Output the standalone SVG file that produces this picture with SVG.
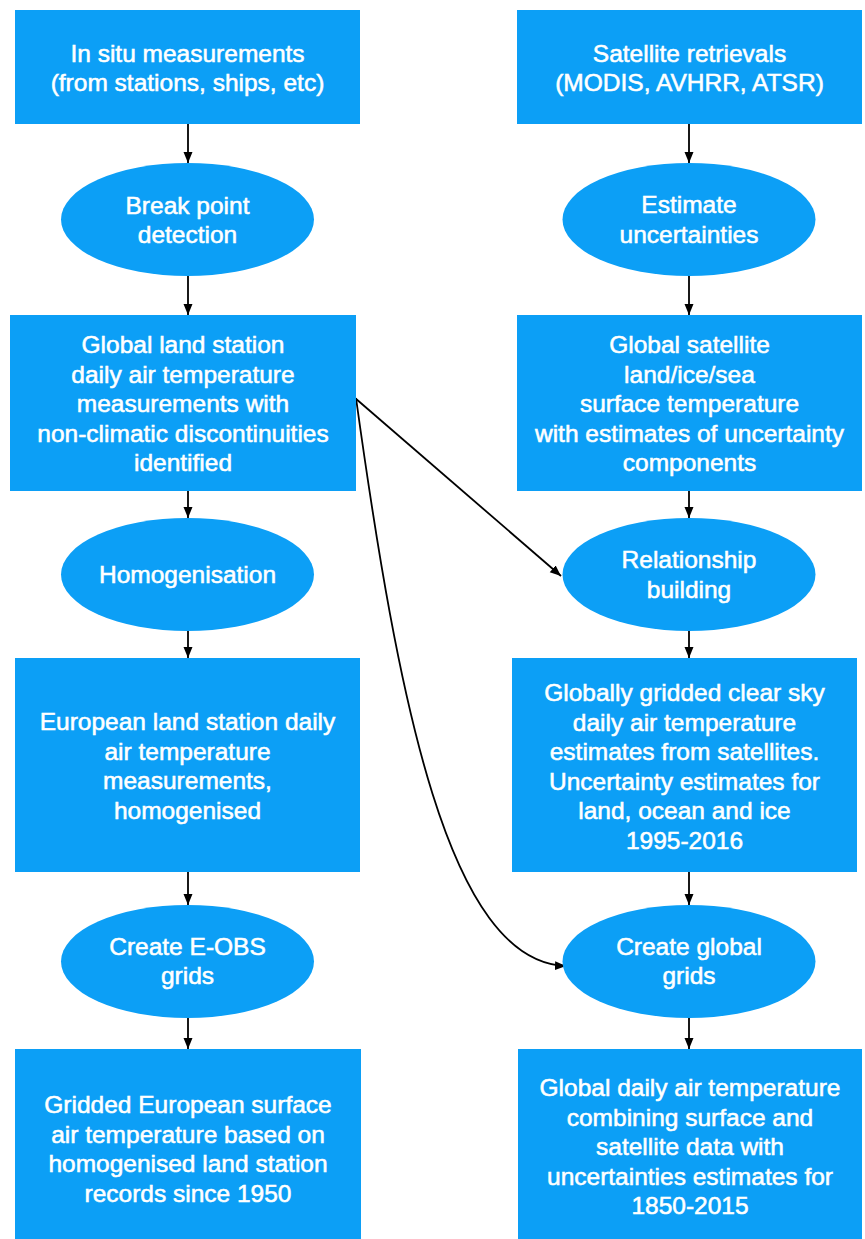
<svg xmlns="http://www.w3.org/2000/svg" width="865" height="1239" viewBox="0 0 865 1239">
<style>
.n{fill:#0C9FF6}
.t{fill:#fff;stroke:#fff;stroke-width:0.55;font-family:"Liberation Sans",Arial,Helvetica,sans-serif;font-size:24.5px;text-anchor:middle}
.c{stroke:#000;stroke-width:1.8;fill:none}
</style>
<defs>
<marker id="ah" markerUnits="userSpaceOnUse" markerWidth="12" markerHeight="10" refX="11" refY="4.5" orient="auto">
<path d="M0,0 L11,4.5 L0,9 z" fill="#000"/>
</marker>
</defs>
<rect width="865" height="1239" fill="#fff"/>
<g id="connectors">
<line class="c" x1="188" y1="124" x2="188" y2="163" marker-end="url(#ah)"/>
<line class="c" x1="188" y1="276" x2="188" y2="315" marker-end="url(#ah)"/>
<line class="c" x1="188" y1="491" x2="188" y2="518" marker-end="url(#ah)"/>
<line class="c" x1="188" y1="631" x2="188" y2="658" marker-end="url(#ah)"/>
<line class="c" x1="188" y1="872" x2="188" y2="905" marker-end="url(#ah)"/>
<line class="c" x1="188" y1="1018" x2="188" y2="1049" marker-end="url(#ah)"/>
<line class="c" x1="689" y1="124" x2="689" y2="163" marker-end="url(#ah)"/>
<line class="c" x1="689" y1="276" x2="689" y2="315" marker-end="url(#ah)"/>
<line class="c" x1="689" y1="491" x2="689" y2="518" marker-end="url(#ah)"/>
<line class="c" x1="689" y1="631" x2="689" y2="658" marker-end="url(#ah)"/>
<line class="c" x1="689" y1="872" x2="689" y2="905" marker-end="url(#ah)"/>
<line class="c" x1="689" y1="1018" x2="689" y2="1049" marker-end="url(#ah)"/>
<line class="c" x1="355" y1="398" x2="561" y2="576" marker-end="url(#ah)"/>
<path class="c" d="M356,398 C398,700 448,962 566,966" marker-end="url(#ah)"/>
</g>
<g id="in-situ">
<rect class="n" x="15" y="10" width="345" height="114"/>
<text class="t" x="187.5" y="62">In situ measurements</text>
<text class="t" x="187.5" y="91">(from stations, ships, etc)</text>
</g>
<g id="break-point">
<ellipse class="n" cx="187.5" cy="219.5" rx="126.5" ry="56.5"/>
<text class="t" x="187.5" y="214">Break point</text>
<text class="t" x="187.5" y="243">detection</text>
</g>
<g id="global-land">
<rect class="n" x="10" y="315" width="346" height="176"/>
<text class="t" x="183" y="353">Global land station</text>
<text class="t" x="183" y="382.5">daily air temperature</text>
<text class="t" x="183" y="412">measurements with</text>
<text class="t" x="183" y="441.5">non-climatic discontinuities</text>
<text class="t" x="183" y="471">identified</text>
</g>
<g id="homogenisation">
<ellipse class="n" cx="187.5" cy="574.5" rx="126.5" ry="56.5"/>
<text class="t" x="187.5" y="583">Homogenisation</text>
</g>
<g id="european-land">
<rect class="n" x="15" y="658" width="345" height="214"/>
<text class="t" x="187.5" y="730">European land station daily</text>
<text class="t" x="187.5" y="759.5">air temperature</text>
<text class="t" x="187.5" y="789">measurements,</text>
<text class="t" x="187.5" y="818.5">homogenised</text>
</g>
<g id="eobs">
<ellipse class="n" cx="187.5" cy="961.5" rx="126.5" ry="56.5"/>
<text class="t" x="187.5" y="955">Create E-OBS</text>
<text class="t" x="187.5" y="983.5">grids</text>
</g>
<g id="gridded-european">
<rect class="n" x="15" y="1049" width="346" height="190"/>
<text class="t" x="188" y="1113">Gridded European surface</text>
<text class="t" x="188" y="1142.5">air temperature based on</text>
<text class="t" x="188" y="1172">homogenised land station</text>
<text class="t" x="188" y="1201.5">records since 1950</text>
</g>
<g id="satellite-retrievals">
<rect class="n" x="517" y="10" width="345" height="114"/>
<text class="t" x="689.5" y="62">Satellite retrievals</text>
<text class="t" x="689.5" y="91">(MODIS, AVHRR, ATSR)</text>
</g>
<g id="estimate-uncertainties">
<ellipse class="n" cx="689" cy="219.5" rx="126.5" ry="56.5"/>
<text class="t" x="689" y="213">Estimate</text>
<text class="t" x="689" y="242.5">uncertainties</text>
</g>
<g id="global-satellite">
<rect class="n" x="517" y="315" width="345" height="176"/>
<text class="t" x="689.5" y="353">Global satellite</text>
<text class="t" x="689.5" y="382.5">land/ice/sea</text>
<text class="t" x="689.5" y="412">surface temperature</text>
<text class="t" x="689.5" y="441.5">with estimates of uncertainty</text>
<text class="t" x="689.5" y="471">components</text>
</g>
<g id="relationship">
<ellipse class="n" cx="689" cy="574.5" rx="126.5" ry="56.5"/>
<text class="t" x="689" y="568">Relationship</text>
<text class="t" x="689" y="597.5">building</text>
</g>
<g id="globally-gridded">
<rect class="n" x="512" y="658" width="345" height="214"/>
<text class="t" x="684.5" y="701">Globally gridded clear sky</text>
<text class="t" x="684.5" y="730.5">daily air temperature</text>
<text class="t" x="684.5" y="760">estimates from satellites.</text>
<text class="t" x="684.5" y="789.5">Uncertainty estimates for</text>
<text class="t" x="684.5" y="819">land, ocean and ice</text>
<text class="t" x="684.5" y="848.5">1995-2016</text>
</g>
<g id="create-global">
<ellipse class="n" cx="689" cy="961.5" rx="126.5" ry="56.5"/>
<text class="t" x="689" y="955">Create global</text>
<text class="t" x="689" y="983.5">grids</text>
</g>
<g id="global-daily">
<rect class="n" x="518" y="1049" width="344" height="190"/>
<text class="t" x="690" y="1096">Global daily air temperature</text>
<text class="t" x="690" y="1125.5">combining surface and</text>
<text class="t" x="690" y="1155">satellite data with</text>
<text class="t" x="690" y="1184.5">uncertainties estimates for</text>
<text class="t" x="690" y="1214">1850-2015</text>
</g>
</svg>
